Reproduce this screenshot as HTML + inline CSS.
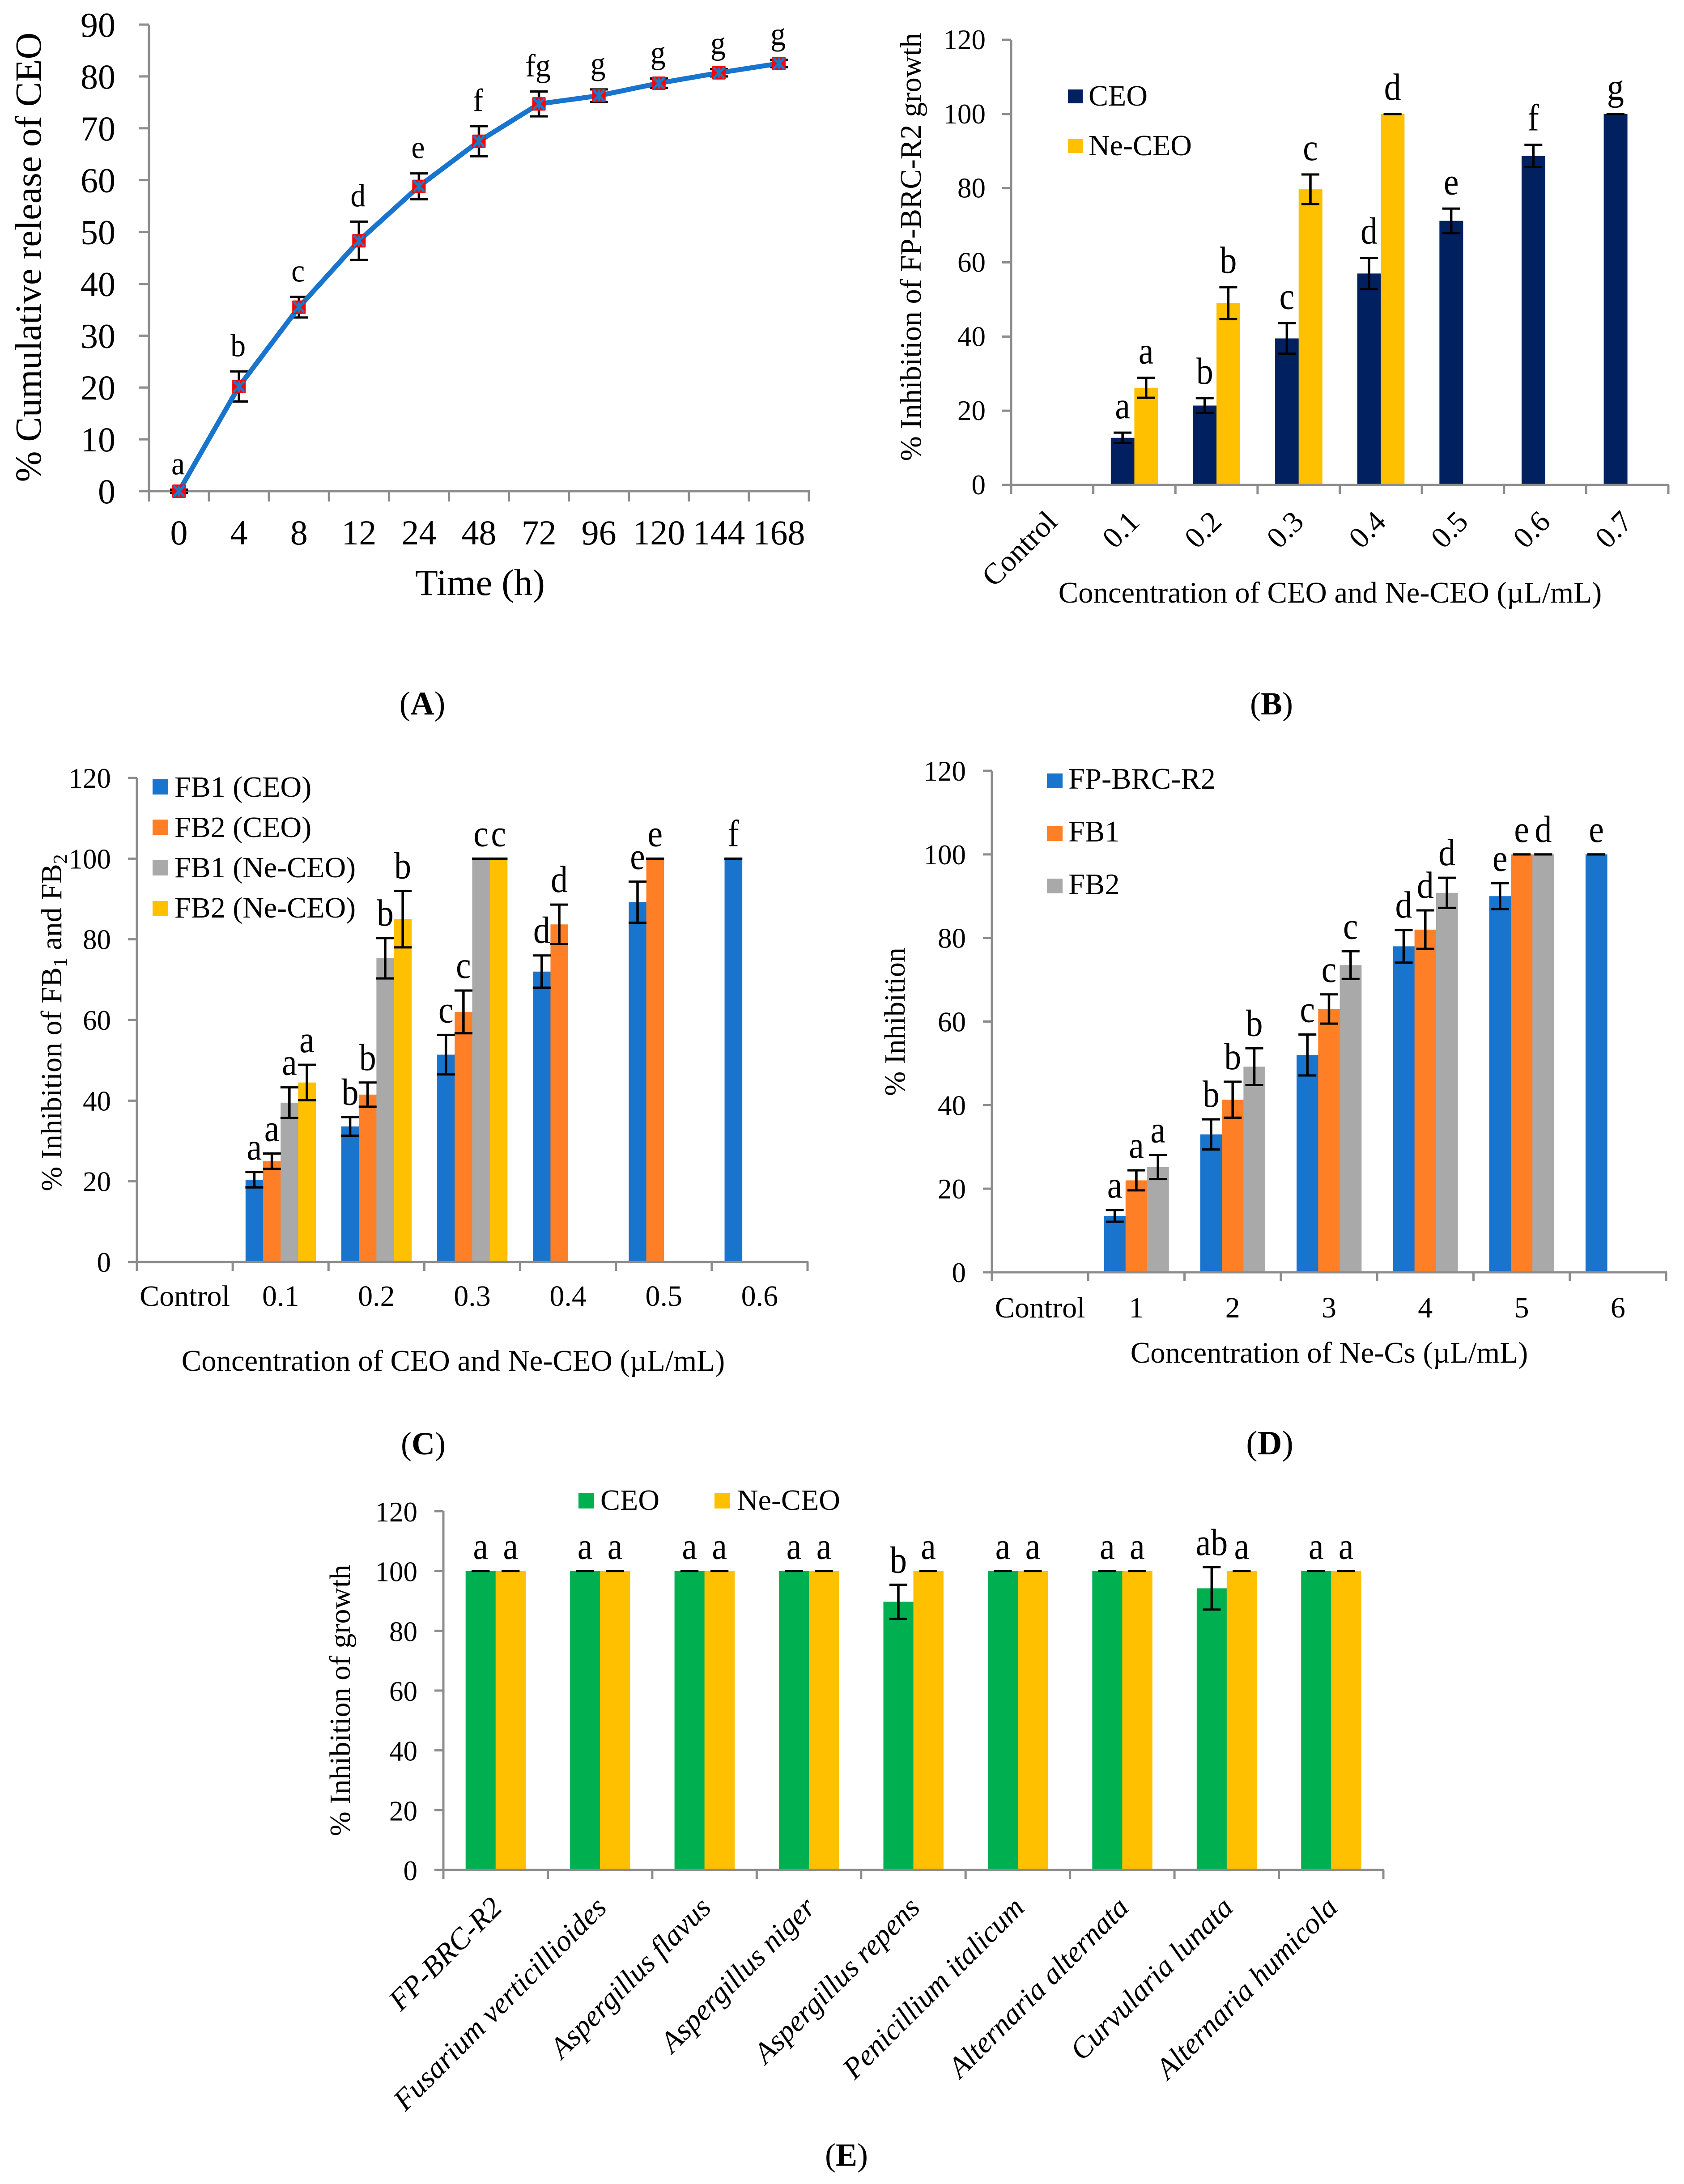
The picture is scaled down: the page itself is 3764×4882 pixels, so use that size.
<!DOCTYPE html>
<html lang="en">
<head>
<meta charset="utf-8">
<title>Five-panel CEO and Ne-CEO chart figure</title>
<style>
html,body{margin:0;padding:0;background:#fff;}
svg{display:block;}
text{font-family:"Liberation Serif","Times New Roman",serif;fill:#000;}
</style>
</head>
<body>
<svg xmlns="http://www.w3.org/2000/svg" width="3764" height="4882" viewBox="0 0 3764 4882">
<rect x="0" y="0" width="3764" height="4882" fill="#fff"/>

<g id="panel-a">
  <text transform="translate(91,575) rotate(-90)" text-anchor="middle" font-size="83">% Cumulative release of CEO</text>
  <text x="1073" y="1330" text-anchor="middle" font-size="83">Time (h)</text>
  <text x="944" y="1597" text-anchor="middle" font-size="74">(<tspan font-weight="bold">A</tspan>)</text>
</g>

<g id="panel-b">
  <text transform="translate(2058,552) rotate(-90)" text-anchor="middle" font-size="66.5">% Inhibition of FP-BRC-R2 growth</text>
  <text x="2973" y="1347" text-anchor="middle" font-size="66.7">Concentration of CEO and Ne-CEO (µL/mL)</text>
  <text x="2842" y="1597" text-anchor="middle" font-size="72">(<tspan font-weight="bold">B</tspan>)</text>
  <g>
    <rect x="2387" y="200" width="33" height="31" fill="#002060"/>
    <text x="2433" y="236" font-size="66">CEO</text>
    <rect x="2387" y="310" width="33" height="32" fill="#FFC000"/>
    <text x="2433" y="347" font-size="66">Ne-CEO</text>
  </g>
</g>

<g id="panel-c">
  <text transform="translate(137,2286) rotate(-90)" text-anchor="middle" font-size="66">% Inhibition of FB<tspan font-size="44" dy="12">1</tspan><tspan dy="-12"> and FB</tspan><tspan font-size="44" dy="12">2</tspan></text>
  <text x="1013" y="3064" text-anchor="middle" font-size="66.7">Concentration of CEO and Ne-CEO (µL/mL)</text>
  <text x="946" y="3251" text-anchor="middle" font-size="72">(<tspan font-weight="bold">C</tspan>)</text>
  <g>
    <rect x="341" y="1742" width="35" height="34" fill="#1874CD"/>
    <text x="390" y="1781" font-size="66">FB1 (CEO)</text>
    <rect x="341" y="1832" width="35" height="34" fill="#FF7F27"/>
    <text x="390" y="1871" font-size="66">FB2 (CEO)</text>
    <rect x="341" y="1923" width="35" height="34" fill="#A9A9A9"/>
    <text x="390" y="1961" font-size="66">FB1 (Ne-CEO)</text>
    <rect x="341" y="2014" width="35" height="34" fill="#FFC000"/>
    <text x="390" y="2051" font-size="66">FB2 (Ne-CEO)</text>
  </g>
</g>

<g id="panel-d">
  <text transform="translate(2022,2284) rotate(-90)" text-anchor="middle" font-size="66">% Inhibition</text>
  <text x="2971" y="3046" text-anchor="middle" font-size="66.7">Concentration of Ne-Cs (µL/mL)</text>
  <text x="2838" y="3251" text-anchor="middle" font-size="76">(<tspan font-weight="bold">D</tspan>)</text>
  <g>
    <rect x="2340" y="1729" width="35" height="33" fill="#1874CD"/>
    <text x="2388" y="1763" font-size="66.5">FP-BRC-R2</text>
    <rect x="2340" y="1847" width="35" height="33" fill="#FF7F27"/>
    <text x="2388" y="1881" font-size="66.5">FB1</text>
    <rect x="2340" y="1964" width="35" height="33" fill="#A9A9A9"/>
    <text x="2388" y="1999" font-size="66.5">FB2</text>
  </g>
</g>

<g id="panel-e">
  <text transform="translate(782,3801) rotate(-90)" text-anchor="middle" font-size="66">% Inhibition of growth</text>
  <text x="1892" y="4841" text-anchor="middle" font-size="72">(<tspan font-weight="bold">E</tspan>)</text>
  <g>
    <rect x="1293" y="3338" width="35" height="34" fill="#00B050"/>
    <text x="1342" y="3375" font-size="66">CEO</text>
    <rect x="1597" y="3338" width="35" height="34" fill="#FFC000"/>
    <text x="1647" y="3375" font-size="66">Ne-CEO</text>
  </g>
</g>
</svg>

<script>
// ---- Panel A data ----
const aCategories = ['0','4','8','12','24','48','72','96','120','144','168'];
const aValues = [0,20.2,35.5,48.3,58.8,67.5,74.7,76.3,78.7,80.7,82.5];
const aErrors = [0.3,2.9,2.0,3.7,2.5,2.9,2.4,1.2,0.9,0.7,0.7];
const aLetters = ['a','b','c','d','e','f','fg','g','g','g','g'];
const aYTicks = [0,10,20,30,40,50,60,70,80,90];

// ---- Panel B data ----
const bCategories = ['Control','0.1','0.2','0.3','0.4','0.5','0.6','0.7'];
const bCeoValues = [null,12.7,21.4,39.5,57,71.2,88.7,100];
const bCeoErrors = [null,1.4,2.0,4.1,4.2,3.3,3.0,0];
const bCeoLetters = ['','a','b','c','d','e','f','g'];
const bNeValues = [null,26.2,49,79.7,100,null,null,null];
const bNeErrors = [null,2.7,4.3,4.0,0,null,null,null];
const bNeLetters = ['','a','b','c','d','','',''];
const bYTicks = [0,20,40,60,80,100,120];

// ---- Panel C data ----
const cCategories = ['Control','0.1','0.2','0.3','0.4','0.5','0.6'];
const cFb1CeoValues = [null,20.4,33.6,51.4,72,89.2,100];
const cFb1CeoErrors = [null,1.9,2.3,4.9,4.0,5.1,0];
const cFb1CeoLetters = ['','a','b','c','d','e','f'];
const cFb2CeoValues = [null,25,41.5,62,83.7,100,null];
const cFb2CeoErrors = [null,1.9,3.0,5.3,4.9,0,null];
const cFb2CeoLetters = ['','a','b','c','d','e',''];
const cFb1NeValues = [null,39.5,75.3,100,null,null,null];
const cFb1NeErrors = [null,3.8,5.0,0,null,null,null];
const cFb1NeLetters = ['','a','b','c','','',''];
const cFb2NeValues = [null,44.5,85,100,null,null,null];
const cFb2NeErrors = [null,4.4,7.0,0,null,null,null];
const cFb2NeLetters = ['','a','b','c','','',''];
const cYTicks = [0,20,40,60,80,100,120];

// ---- Panel D data ----
const dCategories = ['Control','1','2','3','4','5','6'];
const dFpValues = [null,13.5,33,52,78,90,100];
const dFpErrors = [null,1.4,3.6,4.9,3.9,3.1,0];
const dFpLetters = ['','a','b','c','d','e','e'];
const dFb1Values = [null,22,41.3,63,82,100,null];
const dFb1Errors = [null,2.4,4.3,3.5,4.6,0,null];
const dFb1Letters = ['','a','b','c','d','e',''];
const dFb2Values = [null,25.2,49.2,73.5,90.8,100,null];
const dFb2Errors = [null,2.9,4.4,3.3,3.6,0,null];
const dFb2Letters = ['','a','b','c','d','d',''];
const dYTicks = [0,20,40,60,80,100,120];

// ---- Panel E data ----
const eCategories = ['FP-BRC-R2','Fusarium verticillioides','Aspergillus flavus','Aspergillus niger','Aspergillus repens','Penicillium italicum','Alternaria alternata','Curvularia lunata','Alternaria humicola'];
const eCeoValues = [100,100,100,100,89.7,100,100,94.2,100];
const eCeoErrors = [0,0,0,0,5.7,0,0,7.1,0];
const eCeoLetters = ['a','a','a','a','b','a','a','ab','a'];
const eNeValues = [100,100,100,100,100,100,100,100,100];
const eNeErrors = [0,0,0,0,0,0,0,0,0];
const eNeLetters = ['a','a','a','a','a','a','a','a','a'];
const eYTicks = [0,20,40,60,80,100,120];

const SVG_NS = 'http://www.w3.org/2000/svg';
const AXIS_COLOR = '#8C8C8C';

function shape(parent, tag, name, attrs) {
  const el = document.createElementNS(SVG_NS, tag);
  for (const k in attrs) el.setAttribute(k, attrs[k]);
  
  
  parent.appendChild(el);
  return el;
}

function label(parent, name, str, attrs) {
  const el = shape(parent, 'text', name, attrs);
  el.textContent = str;
  return el;
}

function xScale(frame, count) {
  const band = (frame.right - frame.left) / count;
  return function (i) { return frame.left + band * (i + 0.5); };
}

function yScale(frame) {
  return function (v) { return frame.y0 - (v / frame.yMax) * (frame.y0 - frame.yTop); };
}

function drawAxes(root, frame, categories, yTicks) {
  const g = shape(root, 'g', 'axes', {});
  const y = yScale(frame);
  const x = xScale(frame, categories.length);
  const band = (frame.right - frame.left) / categories.length;
  shape(g, 'line', 'y-axis-line', {x1: frame.left, x2: frame.left, y1: y(frame.yMax), y2: frame.y0, stroke: AXIS_COLOR, 'stroke-width': 5});
  shape(g, 'line', 'x-axis-line', {x1: frame.left - frame.tick, x2: frame.right + 2, y1: frame.y0, y2: frame.y0, stroke: AXIS_COLOR, 'stroke-width': 5});
  yTicks.forEach(function (t) {
    shape(g, 'line', 'y-tick-' + t, {x1: frame.left - frame.tick, x2: frame.left, y1: y(t), y2: y(t), stroke: AXIS_COLOR, 'stroke-width': 5});
    label(g, 'y-tick-label-' + t, String(t), {x: frame.yLabelRight, y: y(t) + frame.yLabelShift, 'text-anchor': 'end', 'font-size': frame.tickFont});
  });
  for (let i = 0; i <= categories.length; i++) {
    const tx = frame.left + band * i;
    shape(g, 'line', 'x-tick-' + i, {x1: tx, x2: tx, y1: frame.y0, y2: frame.y0 + frame.tick, stroke: AXIS_COLOR, 'stroke-width': 5});
  }
  categories.forEach(function (c, i) {
    const slug = 'x-tick-label-' + c.toLowerCase().replace(/[^a-z0-9]+/g, '-');
    if (frame.rotate) {
      const ax = x(i) + frame.xLabelShift;
      const attrs = {transform: 'translate(' + ax + ',' + frame.xLabelY + ') rotate(' + frame.rotate + ')', 'text-anchor': 'end', 'font-size': frame.xFont};
      if (frame.italic) attrs['font-style'] = 'italic';
      label(g, slug, c, attrs);
    } else {
      label(g, slug, c, {x: x(i), y: frame.xLabelY, 'text-anchor': 'middle', 'font-size': frame.xFont});
    }
  });
}

function drawError(parent, name, cx, top, bottom, halfCap) {
  const g = shape(parent, 'g', name, {});
  shape(g, 'line', 'error-stem', {x1: cx, x2: cx, y1: top, y2: bottom, stroke: '#000', 'stroke-width': 5.5});
  shape(g, 'line', 'error-cap-top', {x1: cx - halfCap, x2: cx + halfCap, y1: top, y2: top, stroke: '#000', 'stroke-width': 5});
  shape(g, 'line', 'error-cap-bottom', {x1: cx - halfCap, x2: cx + halfCap, y1: bottom, y2: bottom, stroke: '#000', 'stroke-width': 5});
}

function drawLetter(parent, name, str, lx, ly, size, stretch) {
  return label(parent, name, str, {transform: 'translate(' + lx + ',' + ly + ') scale(1,' + stretch + ')', 'text-anchor': 'middle', 'font-size': size});
}

function drawBars(root, frame, categories, series, values, errors, letters, color, index, total) {
  const x = xScale(frame, categories.length);
  const y = yScale(frame);
  const g = shape(root, 'g', 'series-' + series, {});
  categories.forEach(function (c, i) {
    const v = values[i];
    if (v === null) return;
    const left = x(i) - frame.barW * total / 2 + frame.barW * index;
    const top = y(v);
    const slug = series + '-bar-' + c.toLowerCase().replace(/[^a-z0-9]+/g, '-');
    shape(g, 'rect', slug, {x: left, y: top, width: frame.barW + 0.4, height: frame.y0 - top, fill: color});
  });
  // error bars and letters on top of every bar are appended afterwards
  return function () {
    categories.forEach(function (c, i) {
      const v = values[i];
      if (v === null) return;
      const cx = x(i) - frame.barW * total / 2 + frame.barW * (index + 0.5);
      const e = errors[i];
      drawError(root, series + '-error-' + i, cx, y(v + e), y(v - e), 20);
      drawLetter(root, series + '-letter-' + i, letters[i], cx, y(v + e) - frame.letterGap, frame.letterFont, frame.letterStretch);
    });
  };
}

function drawBarPanel(rootId, frame, categories, yTicks, seriesDefs) {
  const root = document.getElementById(rootId);
  const finishers = seriesDefs.map(function (s, idx) {
    return drawBars(root, frame, categories, s.name, s.values, s.errors, s.letters, s.color, idx, seriesDefs.length);
  });
  drawAxes(root, frame, categories, yTicks);
  finishers.forEach(function (f) { f(); });
}

// Panel A: line chart
(function () {
  const frame = {left: 333, right: 1808, y0: 1098, yTop: 55, yMax: 90, tick: 23, yLabelRight: 258, yLabelShift: 27, tickFont: 78, xFont: 78, xLabelY: 1217};
  const root = document.getElementById('panel-a');
  drawAxes(root, frame, aCategories, aYTicks);
  const x = xScale(frame, aCategories.length);
  const y = yScale(frame);
  const pts = aValues.map(function (v, i) { return x(i) + ',' + y(v); }).join(' ');
  aValues.forEach(function (v, i) {
    drawError(root, 'release-error-' + aCategories[i], x(i), y(v + aErrors[i]), y(v - aErrors[i]), 20);
  });
  shape(root, 'polyline', 'release-line', {points: pts, fill: 'none', stroke: '#1874CD', 'stroke-width': 11, 'stroke-linejoin': 'round'});
  aValues.forEach(function (v, i) {
    const g = shape(root, 'g', 'release-point-' + aCategories[i], {});
    const px = x(i), py = y(v);
    shape(g, 'rect', 'marker-square', {x: px - 15, y: py - 15, width: 30, height: 30, rx: 2, fill: '#FF0000'});
    shape(g, 'line', 'marker-cross-a', {x1: px - 12, y1: py - 12, x2: px + 12, y2: py + 12, stroke: '#1E78C8', 'stroke-width': 5.5});
    shape(g, 'line', 'marker-cross-b', {x1: px - 12, y1: py + 12, x2: px + 12, y2: py - 12, stroke: '#1E78C8', 'stroke-width': 5.5});
    shape(g, 'line', 'marker-cross-c', {x1: px, y1: py - 12, x2: px, y2: py + 12, stroke: '#1E78C8', 'stroke-width': 5.5});
    drawLetter(root, 'release-letter-' + aCategories[i], aLetters[i], px - 2, y(v + aErrors[i]) - 34, 68, 1.06);
  });
})();

// Panel B
drawBarPanel('panel-b', {left: 2260, right: 3729, y0: 1084, yTop: 89, yMax: 120, tick: 20, yLabelRight: 2203, yLabelShift: 21, tickFont: 63, xFont: 67, xLabelY: 1170, xLabelShift: 15, rotate: -45, barW: 52.6, letterGap: 32, letterFont: 76, letterStretch: 1.12},
  bCategories, bYTicks, [
    {name: 'ceo', values: bCeoValues, errors: bCeoErrors, letters: bCeoLetters, color: '#002060'},
    {name: 'ne-ceo', values: bNeValues, errors: bNeErrors, letters: bNeLetters, color: '#FFC000'}
  ]);

// Panel C
drawBarPanel('panel-c', {left: 306, right: 1805, y0: 2821, yTop: 1739, yMax: 120, tick: 20, yLabelRight: 248, yLabelShift: 22, tickFont: 63, xFont: 66, xLabelY: 2919, barW: 39.2, letterGap: 28, letterFont: 76, letterStretch: 1.12},
  cCategories, cYTicks, [
    {name: 'fb1-ceo', values: cFb1CeoValues, errors: cFb1CeoErrors, letters: cFb1CeoLetters, color: '#1874CD'},
    {name: 'fb2-ceo', values: cFb2CeoValues, errors: cFb2CeoErrors, letters: cFb2CeoLetters, color: '#FF7F27'},
    {name: 'fb1-ne-ceo', values: cFb1NeValues, errors: cFb1NeErrors, letters: cFb1NeLetters, color: '#A9A9A9'},
    {name: 'fb2-ne-ceo', values: cFb2NeValues, errors: cFb2NeErrors, letters: cFb2NeLetters, color: '#FFC000'}
  ]);

// Panel D
drawBarPanel('panel-d', {left: 2217, right: 3724, y0: 2844, yTop: 1723, yMax: 120, tick: 20, yLabelRight: 2159, yLabelShift: 22, tickFont: 63, xFont: 66, xLabelY: 2945, barW: 48.3, letterGap: 28, letterFont: 76, letterStretch: 1.12},
  dCategories, dYTicks, [
    {name: 'fp-brc-r2', values: dFpValues, errors: dFpErrors, letters: dFpLetters, color: '#1874CD'},
    {name: 'fb1', values: dFb1Values, errors: dFb1Errors, letters: dFb1Letters, color: '#FF7F27'},
    {name: 'fb2', values: dFb2Values, errors: dFb2Errors, letters: dFb2Letters, color: '#A9A9A9'}
  ]);

// Panel E
drawBarPanel('panel-e', {left: 991, right: 3092, y0: 4180, yTop: 3378, yMax: 120, tick: 20, yLabelRight: 933, yLabelShift: 23, tickFont: 63, xFont: 66.5, xLabelY: 4268, xLabelShift: 18, rotate: -45, italic: true, barW: 67, letterGap: 27, letterFont: 76, letterStretch: 1.12},
  eCategories, eYTicks, [
    {name: 'e-ceo', values: eCeoValues, errors: eCeoErrors, letters: eCeoLetters, color: '#00B050'},
    {name: 'e-ne-ceo', values: eNeValues, errors: eNeErrors, letters: eNeLetters, color: '#FFC000'}
  ]);
</script>
</body>
</html>
